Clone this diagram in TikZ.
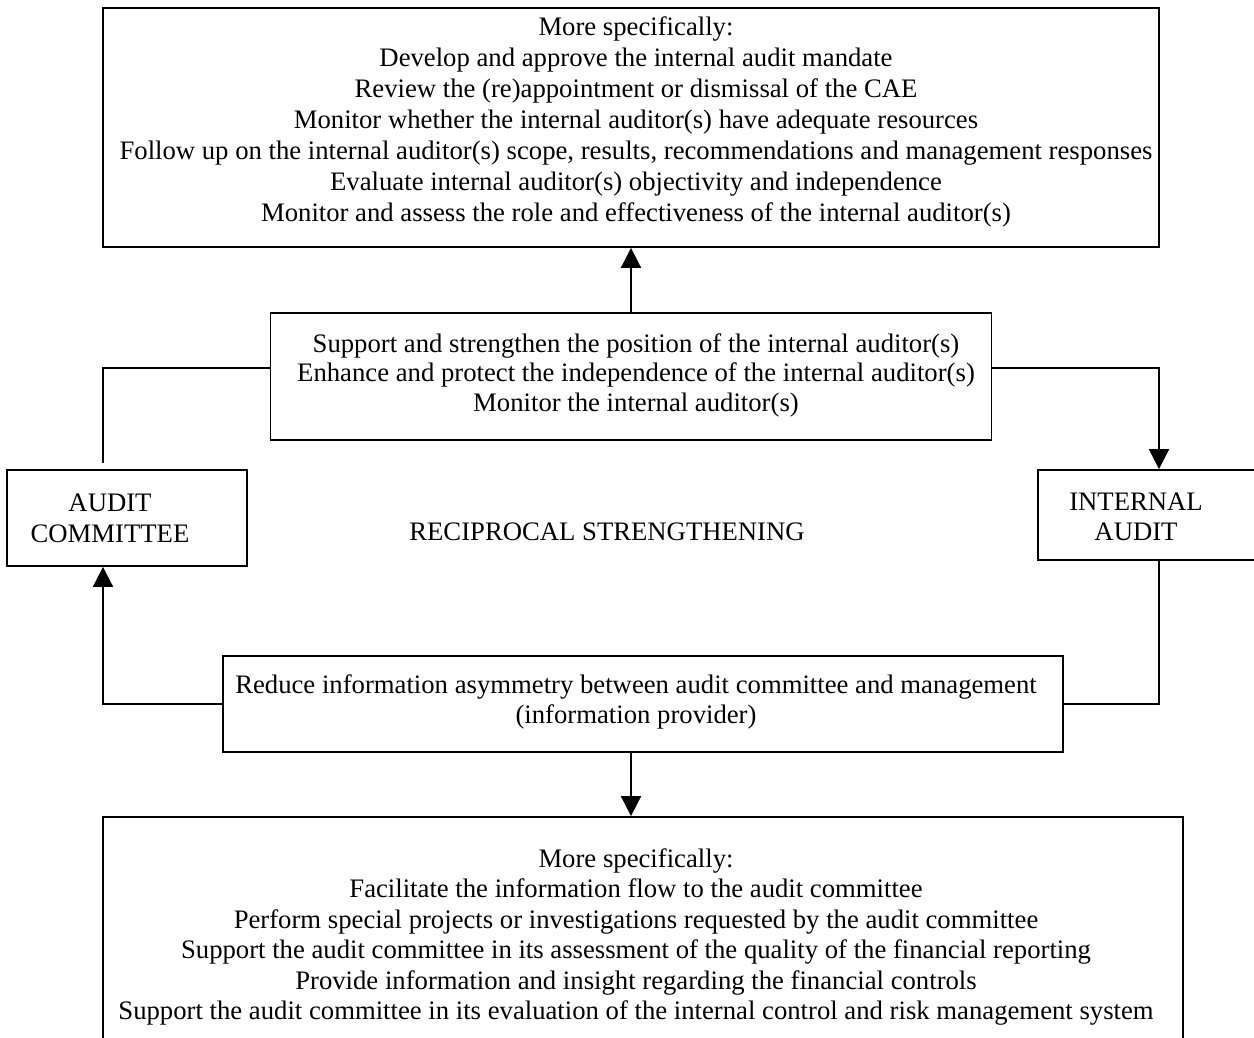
\documentclass[tikz,border=0pt]{standalone}
\usepackage{fontspec}
\setmainfont{Liberation Serif}
\usetikzlibrary{arrows.meta}
\newcommand\mlines[1]{\begin{tabular}[t]{@{}c@{}}#1\end{tabular}}
\begin{document}
\begin{tikzpicture}[x=1pt,y=-1pt,
  box/.style={draw,line width=1.8pt,rectangle,inner sep=0pt},
  txt/.style={anchor=base,inner sep=0pt,font=\fontsize{26.7}{30.5}\selectfont},
  conn/.style={line width=1.8pt},
  arr/.style={line width=1.8pt,-{Triangle[width=20pt,length=20pt]}}]
\useasboundingbox (0,0) rectangle (1254,1037);
\clip (0,0) rectangle (1254,1037);
% boxes
\node[box,minimum width=1056pt,minimum height=239pt] (top) at (631,127.5) {};
\node[box,minimum width=721pt,minimum height=127pt] (mid) at (631,376.5) {};
\node[box,minimum width=240pt,minimum height=96pt] (ac) at (127,518) {};
\node[box,minimum width=242pt,minimum height=90pt] (ia) at (1159,515) {};
\node[box,minimum width=840pt,minimum height=96pt] (bm) at (643,704) {};
\node[box,minimum width=1080pt,minimum height=243pt] (bot) at (643,938.5) {};
% texts
\node[txt,font=\fontsize{26.7}{31}\selectfont] (ttop) at (636,35) {\mlines{More specifically:\\
Develop and approve the internal audit mandate\\
Review the (re)appointment or dismissal of the CAE\\
Monitor whether the internal auditor(s) have adequate resources\\
Follow up on the internal auditor(s) scope, results, recommendations and management responses\\
Evaluate internal auditor(s) objectivity and independence\\
Monitor and assess the role and effectiveness of the internal auditor(s)}};
\node[txt,font=\fontsize{26.7}{29.5}\selectfont] (tmid) at (636,352) {\mlines{Support and strengthen the position of the internal auditor(s)\\
Enhance and protect the independence of the internal auditor(s)\\
Monitor the internal auditor(s)}};
\node[txt,font=\fontsize{26.7}{31}\selectfont] (tac) at (110,511) {\mlines{AUDIT\\COMMITTEE}};
\node[txt,font=\fontsize{26.7}{30}\selectfont] (tia) at (1136,510) {\mlines{INTERNAL\\AUDIT}};
\node[txt] (recip) at (607,540) {RECIPROCAL STRENGTHENING};
\node[txt,font=\fontsize{26.7}{30}\selectfont] (tbm) at (636,693) {\mlines{Reduce information asymmetry between audit committee and management\\
(information provider)}};
\node[txt] (tbot) at (636,867) {\mlines{More specifically:\\
Facilitate the information flow to the audit committee\\
Perform special projects or investigations requested by the audit committee\\
Support the audit committee in its assessment of the quality of the financial reporting\\
Provide information and insight regarding the financial controls\\
Support the audit committee in its evaluation of the internal control and risk management system}};
% connectors
\draw[arr] (mid.north) -- (top.south);
\draw[conn] ([yshift=8.5pt]mid.west) -| ([xshift=-24pt,yshift=6pt]ac.north);
\draw[arr] ([yshift=8.5pt]mid.east) -| (ia.north);
\draw[conn] (ia.south) |- (bm.east);
\draw[arr] (bm.west) -| ([xshift=-24pt]ac.south);
\draw[arr] (bm.south -| top.south) -- (bot.north -| top.south);
\end{tikzpicture}
\end{document}
